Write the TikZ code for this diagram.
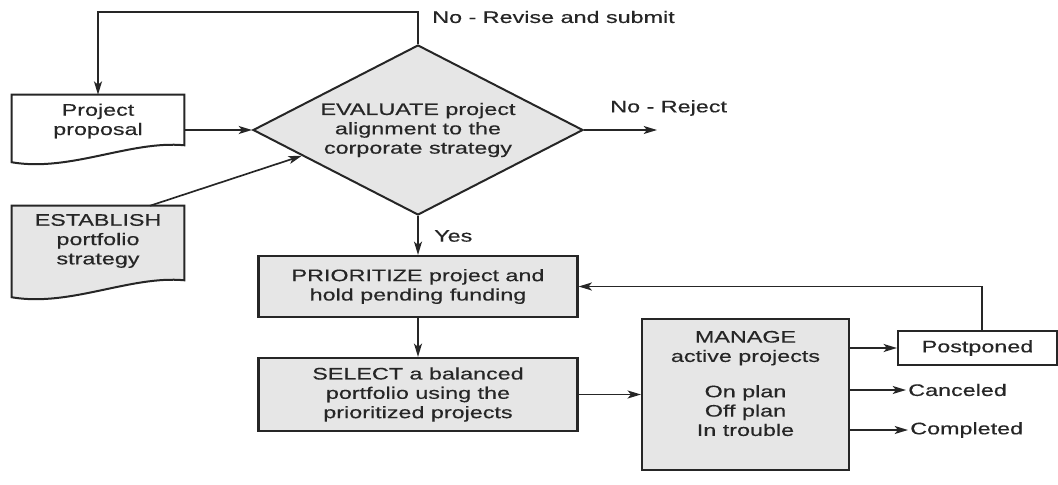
\documentclass[tikz,border=0pt]{standalone}
\usepackage{fontspec}
\setmainfont{Liberation Sans}[FakeStretch=1.4,FakeBold=0.4]
\usetikzlibrary{shapes.geometric,arrows.meta,calc}
\definecolor{boxgray}{HTML}{E6E6E6}
\definecolor{ink}{HTML}{262626}
\begin{document}
\begin{tikzpicture}[x=0.75pt,y=-0.75pt,
  every node/.style={font=\fontsize{12.5}{14.5}\selectfont, text=ink},
  arr/.style={draw=ink, line width=1.25pt, -{Stealth[length=10pt,width=6pt,inset=2.5pt]}},
  box/.style={draw=ink, line width=1.6pt, fill=boxgray, rectangle, inner sep=0pt, align=center},
  ghost/.style={rectangle, inner sep=0pt},
  txt/.style={align=center, inner sep=0pt},
  lbl/.style={inner sep=1.5pt, anchor=west},
  docline/.style={draw=ink, line width=1.5pt}]
\useasboundingbox (0,0) rectangle (1058,485);

% document shapes
\node[ghost, minimum width=129pt, minimum height=50.25pt] (prop) at (98,128.5) {};
\draw[docline, fill=white] (prop.north west) -- (prop.north east) -- ([yshift=12.75pt]prop.south east)
  .. controls ([xshift=-40.5pt,yshift=16.5pt]prop.south east) and ([xshift=43.5pt,yshift=-7.5pt]prop.south west) .. (prop.south west) -- cycle;
\node[txt] (propt) at ([yshift=5.6pt]prop.center) {Project\\proposal};

\node[ghost, minimum width=129pt, minimum height=68.25pt] (est) at (98,251.5) {};
\draw[docline, fill=boxgray] (est.north west) -- (est.north east) -- ([yshift=12.75pt]est.south east)
  .. controls ([xshift=-40.5pt,yshift=16.5pt]est.south east) and ([xshift=43.5pt,yshift=-7.5pt]est.south west) .. (est.south west) -- cycle;
\node[txt] (estt) at ([yshift=7.9pt]est.center) {ESTABLISH\\portfolio\\strategy};

% decision
\node[diamond, draw=ink, line width=1.5pt, fill=boxgray, minimum width=247.5pt, minimum height=127.5pt,
  aspect=1.94, inner sep=0pt, align=center] (eval) at (418,130) {EVALUATE project\\alignment to the\\corporate strategy};

% process boxes
\node[box, minimum width=239.25pt, minimum height=45.75pt] (prio) at (418,286.5) {PRIORITIZE project and\\hold pending funding};
\node[box, minimum width=239.25pt, minimum height=54.75pt] (sel) at (418,394.5) {SELECT a balanced\\portfolio using the\\prioritized projects};
\node[box, minimum width=155.25pt, minimum height=113.25pt] (mgr) at (745.5,394.5) {};
\node[txt] (mgrt) at ([yshift=8.25pt]mgr.center) {MANAGE\\active projects\\[12pt]On plan\\Off plan\\In trouble};
\node[rectangle, draw=ink, line width=1.6pt, fill=white, minimum width=119.25pt, minimum height=25.5pt, inner sep=0pt] (post) at (977.5,348) {Postponed};

% labels
\node[lbl] (rev) at (430,17) {No - Revise and submit};
\node[lbl] (rejl) at (608,108) {No - Reject};
\node[lbl] (yes) at (432,236) {Yes};
\node[lbl] (canc) at (906,390) {Canceled};
\node[lbl] (comp) at (908,430) {Completed};

% connectors
\draw[arr] (prop.east |- eval.west) -- (eval.west);
\draw[arr] (eval.north) -- ++(0,-32) -| (prop.north);
\draw[arr] (eval.east) -- ++(73,0) coordinate (rej);
\draw[arr] ([xshift=39pt]est.north) -- ($(eval.west)!0.3!(eval.south)$);
\draw[arr] (eval.south) -- (prio.north);
\draw[arr] (prio.south) -- (sel.north);
\draw[arr] (sel.east) -- (mgr.west);
\draw[arr] (mgr.east |- post.west) -- (post.west);
\draw[arr] (mgr.east |- canc.west) -- (canc.west);
\draw[arr] (mgr.east |- comp.west) -- (comp.west);
\draw[arr] ([xshift=3.4pt]post.north) |- (prio.east);
\end{tikzpicture}
\end{document}
